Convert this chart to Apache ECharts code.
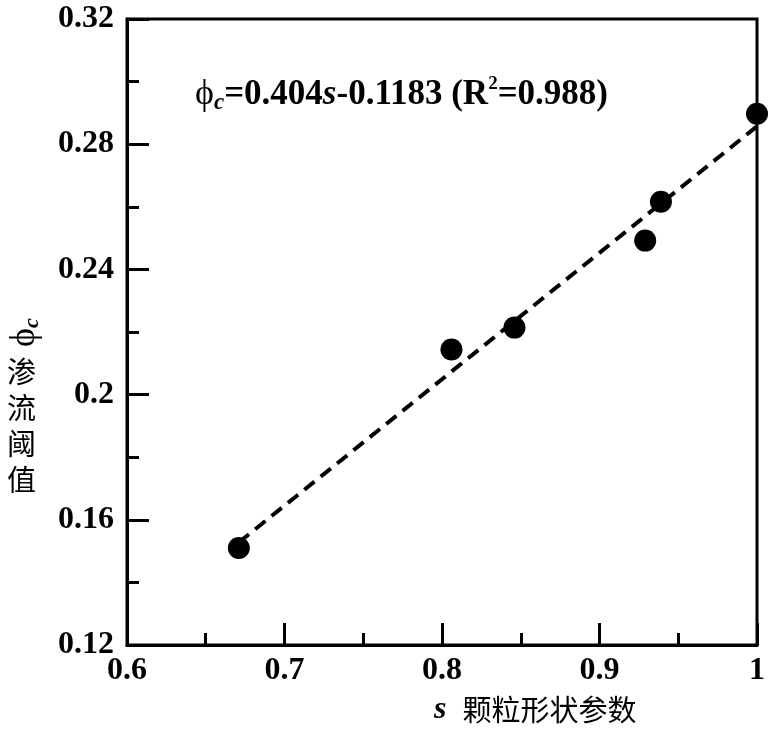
<!DOCTYPE html>
<html>
<head>
<meta charset="utf-8">
<script src="https://cdn.jsdelivr.net/npm/echarts@6/dist/echarts.min.js"></script>
<style>html,body{margin:0;padding:0;background:#fff}#c{width:768px;height:734px}</style>
</head>
<body>
<div id="c"></div>
<script>
var sValues = [0.671, 0.806, 0.846, 0.929, 0.939, 1.0];
var phiValues = [0.151, 0.2144, 0.2214, 0.2492, 0.2616, 0.2897];
var fitS = [0.671, 1.0];
var fitPhi = [0.1528, 0.2857];
var xTicks = [0.6, 0.7, 0.8, 0.9, 1];
var yTicks = [0.12, 0.16, 0.2, 0.24, 0.28, 0.32];

var chart = echarts.init(document.getElementById('c'));
var serif = '"Liberation Serif","DejaVu Serif",serif';
var cjk = '"Noto Sans CJK SC","Noto Sans CJK JP",sans-serif';

var option = {
  animation: false,
  backgroundColor: '#fff',
  grid: {left: 127, right: 11, top: 19, bottom: 89, show: true, borderColor: '#000', borderWidth: 3},
  xAxis: {
    type: 'value', min: xTicks[0], max: xTicks[xTicks.length-1], interval: 0.1,
    axisLine: {show: true, lineStyle: {color: '#000', width: 3}},
    axisTick: {show: true, inside: true, length: 22, lineStyle: {color: '#000', width: 3}},
    minorTick: {show: true, splitNumber: 2, length: 12, lineStyle: {color: '#000', width: 3}},
    splitLine: {show: false},
    axisLabel: {color: '#000', fontFamily: serif, fontWeight: 'bold', fontSize: 32, margin: 10,
      formatter: function(v){return String(Math.round(v*100)/100);}}
  },
  yAxis: {
    type: 'value', min: yTicks[0], max: yTicks[yTicks.length-1], interval: 0.04,
    axisLine: {show: true, lineStyle: {color: '#000', width: 3}},
    axisTick: {show: true, inside: true, length: 22, lineStyle: {color: '#000', width: 3}},
    minorTick: {show: true, splitNumber: 2, length: 12, lineStyle: {color: '#000', width: 3}},
    splitLine: {show: false},
    axisLabel: {color: '#000', fontFamily: serif, fontWeight: 'bold', fontSize: 32, margin: 13,
      formatter: function(v){return String(Math.round(v*100)/100);}}
  },
  series: [
    {
      type: 'line', data: fitS.map(function(s,i){return [s, fitPhi[i]];}),
      symbol: 'none', lineStyle: {color: '#000', width: 4, type: [13, 8]}, z: 2
    },
    {
      type: 'scatter', data: sValues.map(function(s,i){return [s, phiValues[i]];}),
      symbol: 'circle', symbolSize: 22, itemStyle: {color: '#000', opacity: 1}, z: 3
    }
  ],
  graphic: [
    {
      type: 'text', left: 195, top: 75,
      style: {
        text: '{p|ϕ}{c|c}{b|=0.404}{i|s}{b|-0.1183 (R}{sup|2}{b|=0.988)}',
        rich: {
          p: {fontFamily: serif, fontSize: 36, fill: '#000'},
          c: {fontFamily: serif, fontStyle: 'italic', fontWeight: 'bold', fontSize: 23, fill: '#000', verticalAlign: 'bottom', padding: [17,0,0,0]},
          b: {fontFamily: serif, fontWeight: 'bold', fontSize: 35, fill: '#000'},
          i: {fontFamily: serif, fontWeight: 'bold', fontStyle: 'italic', fontSize: 35, fill: '#000'},
          sup: {fontFamily: serif, fontWeight: 'bold', fontSize: 19, fill: '#000', verticalAlign: 'top', padding: [0,0,17,0]}
        }
      }
    },
    {
      type: 'text', x: 25, y: 347, rotation: Math.PI/2,
      style: {
        text: '{p|ϕ}{c|c}', align: 'left', verticalAlign: 'middle',
        rich: {
          p: {fontFamily: serif, fontSize: 36, fill: '#000'},
          c: {fontFamily: serif, fontStyle: 'italic', fontWeight: 'bold', fontSize: 22, fill: '#000', padding: [14,0,0,0]}
        }
      }
    },
    {
      type: 'text', left: 7, top: 354,
      style: {text: '渗\n流\n阈\n值', fontFamily: cjk, fontSize: 29, lineHeight: 36, fill: '#000'}
    },
    {
      type: 'text', left: 434, top: 694,
      style: {
        text: '{i|s}{g|}{z|颗粒形状参数}',
        rich: {
          i: {fontFamily: serif, fontWeight: 'bold', fontStyle: 'italic', fontSize: 32, fill: '#000'},
          g: {width: 16},
          z: {fontFamily: cjk, fontSize: 29, fill: '#000'}
        }
      }
    }
  ]
};
chart.setOption(option);
</script>
</body>
</html>
